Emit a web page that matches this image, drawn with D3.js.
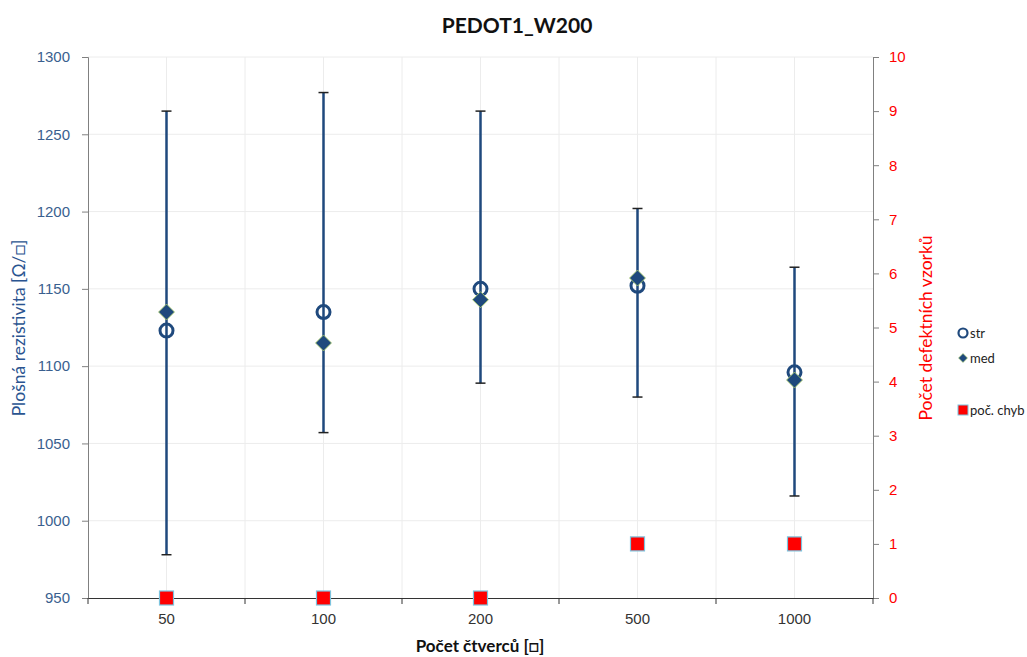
<!DOCTYPE html>
<html>
<head>
<meta charset="utf-8">
<script src="https://cdn.jsdelivr.net/npm/d3@7/dist/d3.min.js"></script>
<style>
  body { margin: 0; background: #fff; }
  svg { display: block; font-family: Lato, "Open Sans", sans-serif; }
</style>
</head>
<body>
<svg id="chart" width="1027" height="657"></svg>
<script>
// Number of squares per sample
const categories = ["50", "100", "200", "500", "1000"];
// Mean sheet resistance (str), median (med), min/max range
const strValues = [1123, 1135, 1150, 1152, 1096];
const medValues = [1135, 1115, 1143, 1157, 1091];
const rangeLow  = [978, 1057, 1089, 1080, 1016];
const rangeHigh = [1265, 1277, 1265, 1202, 1164];
// Defective samples count (right axis)
const defects = [0, 0, 0, 1, 1];

const leftTicks = [950, 1000, 1050, 1100, 1150, 1200, 1250, 1300];
const rightTicks = [0, 1, 2, 3, 4, 5, 6, 7, 8, 9, 10];

const svg = d3.select("#chart");
const m = { left: 88, right: 873, top: 57, bottom: 598 };

const x = d3.scaleBand().domain(categories).range([m.left, m.right]);
const y = d3.scaleLinear().domain([950, 1300]).range([m.bottom, m.top]);
const y2 = d3.scaleLinear().domain([0, 10]).range([m.bottom, m.top]);
const cx = d => x(d) + x.bandwidth() / 2;

const navy = "#1F497D";

// Gridlines
const grid = svg.append("g");
grid.selectAll("line.h").data(leftTicks.slice(1)).join("line")
  .attr("x1", m.left).attr("x2", m.right)
  .attr("y1", d => y(d)).attr("y2", d => y(d))
  .attr("stroke", "#ececec").attr("stroke-width", 1);
const vx = [];
categories.forEach((c, i) => { vx.push(cx(c)); if (i > 0) vx.push(x(c)); });
grid.selectAll("line.v").data(vx).join("line")
  .attr("x1", d => d).attr("x2", d => d)
  .attr("y1", m.top).attr("y2", m.bottom)
  .attr("stroke", "#ececec").attr("stroke-width", 1);

// Left axis
const leftAxis = svg.append("g").attr("transform", `translate(${m.left},0)`)
  .call(d3.axisLeft(y).tickValues(leftTicks).tickFormat(d3.format("d")).tickSize(6).tickPadding(12));
leftAxis.select(".domain").attr("stroke", "#808080");
leftAxis.selectAll(".tick line").attr("stroke", "#808080");
leftAxis.selectAll(".tick text").attr("fill", "#3A5F8F").attr("font-size", 15);

// Right axis
const rightAxis = svg.append("g").attr("transform", `translate(${m.right},0)`)
  .call(d3.axisRight(y2).tickValues(rightTicks).tickFormat(d3.format("d")).tickSize(6).tickPadding(10));
rightAxis.select(".domain").attr("stroke", "#808080");
rightAxis.selectAll(".tick line").attr("stroke", "#808080");
rightAxis.selectAll(".tick text").attr("fill", "#FF0000").attr("font-size", 15);

// Bottom axis
const bottomAxis = svg.append("g").attr("transform", `translate(0,${m.bottom})`)
  .call(d3.axisBottom(x).tickSize(0).tickPadding(15));
bottomAxis.select(".domain").attr("stroke", "#333").attr("stroke-width", 1.2);
bottomAxis.selectAll(".tick text").attr("fill", "#333").attr("font-size", 15);
svg.append("g").selectAll("line").data(categories.map(c => x(c)).concat([m.right])).join("line")
  .attr("x1", d => d).attr("x2", d => d)
  .attr("y1", m.bottom).attr("y2", m.bottom + 6)
  .attr("stroke", "#333");

// Range bars
const bars = svg.append("g");
bars.selectAll("line.bar").data(categories).join("line")
  .attr("x1", d => cx(d)).attr("x2", d => cx(d))
  .attr("y1", (d, i) => y(rangeHigh[i])).attr("y2", (d, i) => y(rangeLow[i]))
  .attr("stroke", navy).attr("stroke-width", 2.5);
[rangeHigh, rangeLow].forEach(arr => {
  bars.append("g").selectAll("line").data(categories).join("line")
    .attr("x1", d => cx(d) - 5).attr("x2", d => cx(d) + 5)
    .attr("y1", (d, i) => y(arr[i])).attr("y2", (d, i) => y(arr[i]))
    .attr("stroke", "#222").attr("stroke-width", 1.5);
});

// str circles
svg.append("g").selectAll("circle").data(categories).join("circle")
  .attr("cx", d => cx(d)).attr("cy", (d, i) => y(strValues[i]))
  .attr("r", 6.5).attr("fill", "none").attr("stroke", navy).attr("stroke-width", 3);

// med diamonds
const diamond = (px, py, s) => `M${px},${py - s}L${px + s},${py}L${px},${py + s}L${px - s},${py}Z`;
svg.append("g").selectAll("path").data(categories).join("path")
  .attr("d", (d, i) => diamond(cx(d), y(medValues[i]), 8))
  .attr("fill", navy).attr("stroke", "#B5D56A").attr("stroke-width", 0.8);

// Defect squares
svg.append("g").selectAll("rect").data(categories).join("rect")
  .attr("x", d => cx(d) - 7).attr("y", (d, i) => y2(defects[i]) - 7)
  .attr("width", 14).attr("height", 14)
  .attr("fill", "#FF0000").attr("stroke", "#7CC4DE").attr("stroke-width", 1.2);

// Titles
svg.append("text").attr("x", 517).attr("y", 33).attr("text-anchor", "middle")
  .attr("font-size", 21).attr("font-weight", "bold").attr("fill", "#111").text("PEDOT1_W200");
svg.append("text").attr("x", 480).attr("y", 652).attr("text-anchor", "middle")
  .attr("font-size", 17).attr("font-weight", "bold").attr("fill", "#111").text("Počet čtverců [□]");
svg.append("text").attr("transform", "translate(25,328) rotate(-90)").attr("text-anchor", "middle")
  .attr("font-size", 17.5).attr("fill", "#2A5490").text("Plošná rezistivita [Ω/□]");
svg.append("text").attr("transform", "translate(932,328) rotate(-90)").attr("text-anchor", "middle")
  .attr("font-size", 17.5).attr("fill", "#FF0000").text("Počet defektních vzorků");

// Legend
const lg = svg.append("g").attr("font-size", 13).attr("fill", "#222");
lg.append("circle").attr("cx", 963).attr("cy", 333).attr("r", 4.5)
  .attr("fill", "none").attr("stroke", navy).attr("stroke-width", 2.2);
lg.append("text").attr("x", 970).attr("y", 337.5).text("str");
lg.append("path").attr("d", diamond(963, 358, 4.5)).attr("fill", navy).attr("stroke", "#B5D56A").attr("stroke-width", 0.6);
lg.append("text").attr("x", 970).attr("y", 362.5).text("med");
lg.append("rect").attr("x", 958).attr("y", 405).attr("width", 10).attr("height", 10)
  .attr("fill", "#FF0000").attr("stroke", "#7CC4DE").attr("stroke-width", 1);
lg.append("text").attr("x", 970).attr("y", 414.5).text("poč. chyb");
</script>
</body>
</html>
